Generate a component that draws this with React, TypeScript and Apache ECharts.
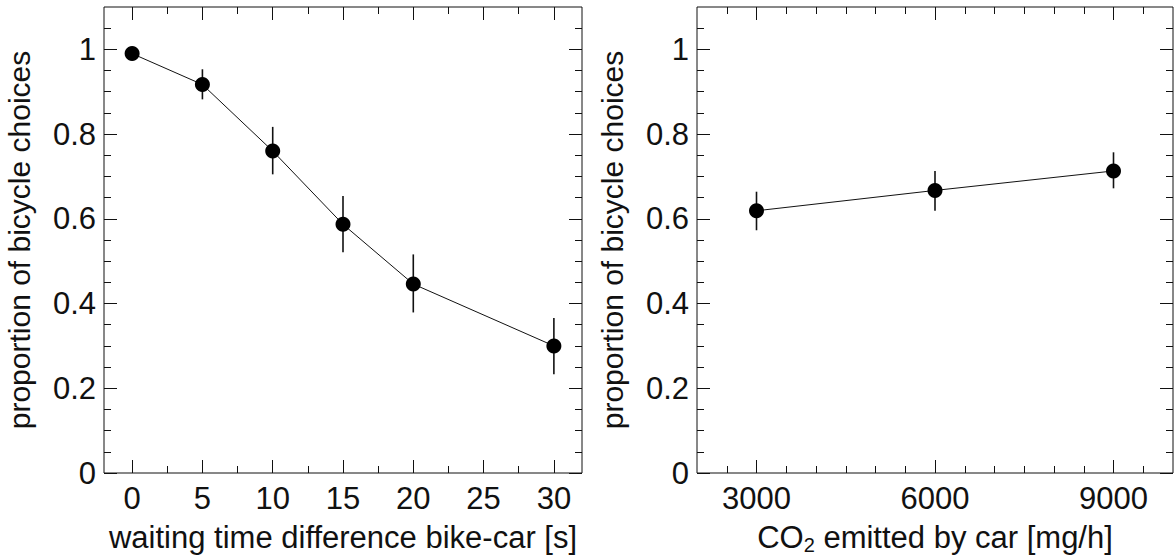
import React, { useEffect, useRef } from "react";
import * as echarts from "echarts";

// ---- data ----
const waitValues = [0, 5, 10, 15, 20, 30];
const waitProp = [0.99, 0.917, 0.76, 0.587, 0.446, 0.3];
const waitLow = [0.982, 0.882, 0.705, 0.521, 0.379, 0.233];
const waitHigh = [0.998, 0.953, 0.817, 0.654, 0.516, 0.366];

const co2Values = [3000, 6000, 9000];
const co2Prop = [0.619, 0.667, 0.713];
const co2Low = [0.573, 0.619, 0.672];
const co2High = [0.664, 0.713, 0.757];

const yMajorTicks = [0, 0.2, 0.4, 0.6, 0.8, 1];
const yMinorTicks = [0.05, 0.1, 0.15, 0.25, 0.3, 0.35, 0.45, 0.5, 0.55, 0.65, 0.7, 0.75, 0.85, 0.9, 0.95, 1.05];
const waitMajorTicks = [0, 5, 10, 15, 20, 25, 30];
const waitMinorTicks = [2.5, 7.5, 12.5, 17.5, 22.5, 27.5];
const co2MajorTicks = [3000, 6000, 9000];
const co2MinorTicks = [2500, 3500, 4000, 4500, 5000, 5500, 6500, 7000, 7500, 8000, 8500, 9500];

const yTitle = "proportion of bicycle choices";
const xTitleLeft = "{m|waiting time difference bike-car [s]}";
const xTitleRight = "{m|CO}{sub|2}{m| emitted by car [mg/h]}";

const FONT = "'Liberation Sans', Arial, sans-serif";
const INK = "#111";

function App() {
  const ref = useRef<HTMLDivElement>(null);

  useEffect(() => {
    document.body.style.margin = "0";
    const chart = echarts.init(ref.current!, undefined, { renderer: "svg" });

    const tickAxis = (
      kind: "x" | "y",
      grid: number,
      position: string,
      min: number,
      max: number,
      ticks: number[],
      len: number,
      labels: boolean,
      extra: any = {}
    ) => ({
      type: "value",
      gridIndex: grid,
      position,
      min,
      max,
      axisLine: { show: false, onZero: false },
      splitLine: { show: false },
      axisTick: {
        show: true,
        inside: true,
        length: len,
        customValues: ticks,
        lineStyle: { color: INK, width: 1 },
      },
      axisLabel: labels
        ? {
            show: true,
            customValues: ticks,
            color: INK,
            fontFamily: FONT,
            fontSize: 31,
            margin: kind === "x" ? 10 : 8,
            formatter: (v: number) => String(v),
          }
        : { show: false },
      ...extra,
    });

    const errBar = (xi: number, yi: number, xs: number[], lo: number[], hi: number[]) => ({
      type: "custom",
      xAxisIndex: xi,
      yAxisIndex: yi,
      z: 1,
      encode: { x: 0, y: [1, 2] },
      data: xs.map((x, i) => [x, lo[i], hi[i]]),
      renderItem: (_p: any, api: any) => {
        const x = api.value(0);
        const a = api.coord([x, api.value(1)]);
        const b = api.coord([x, api.value(2)]);
        return {
          type: "line",
          shape: { x1: a[0], y1: a[1], x2: b[0], y2: b[1] },
          style: { stroke: INK, lineWidth: 1.6 },
        };
      },
    });

    const lineSeries = (xi: number, yi: number, xs: number[], ys: number[]) => ({
      type: "line",
      xAxisIndex: xi,
      yAxisIndex: yi,
      z: 3,
      data: xs.map((x, i) => [x, ys[i]]),
      symbol: "circle",
      symbolSize: 15,
      itemStyle: { color: "#000" },
      lineStyle: { color: INK, width: 1 },
    });

    const xName = (name: string) => ({
      name,
      nameLocation: "middle",
      nameGap: 46,
      nameTextStyle: {
        color: INK,
        fontFamily: FONT,
        fontSize: 31,
        rich: {
          m: {
            fontSize: 31,
            fontFamily: FONT,
            color: INK,
            lineHeight: 36,
            verticalAlign: "middle",
          },
          sub: {
            fontSize: 20,
            fontFamily: FONT,
            color: INK,
            verticalAlign: "bottom",
            lineHeight: 20,
            padding: [16, 0, 0, 0],
          },
        },
      },
    });

    const yName = {
      name: yTitle,
      nameLocation: "middle",
      nameGap: 70,
      nameRotate: 90,
      nameTextStyle: { color: INK, fontFamily: FONT, fontSize: 30 },
    };

    const gridBase = {
      top: 7,
      height: 466,
      show: true,
      borderColor: INK,
      borderWidth: 1,
      backgroundColor: "transparent",
      containLabel: false,
      outerBoundsMode: "none",
    };

    const option: any = {
      animation: false,
      backgroundColor: "#fff",
      grid: [
        { ...gridBase, left: 104, width: 478 },
        { ...gridBase, left: 697, width: 476 },
      ],
      xAxis: [
        tickAxis("x", 0, "bottom", -2, 32, waitMajorTicks, 13, true, xName(xTitleLeft)),
        tickAxis("x", 0, "bottom", -2, 32, waitMinorTicks, 7, false),
        tickAxis("x", 0, "top", -2, 32, waitMajorTicks, 13, false),
        tickAxis("x", 0, "top", -2, 32, waitMinorTicks, 7, false),
        tickAxis("x", 1, "bottom", 2000, 10000, co2MajorTicks, 13, true, xName(xTitleRight)),
        tickAxis("x", 1, "bottom", 2000, 10000, co2MinorTicks, 7, false),
        tickAxis("x", 1, "top", 2000, 10000, co2MajorTicks, 13, false),
        tickAxis("x", 1, "top", 2000, 10000, co2MinorTicks, 7, false),
      ],
      yAxis: [
        tickAxis("y", 0, "left", 0, 1.1, yMajorTicks, 13, true, yName),
        tickAxis("y", 0, "left", 0, 1.1, yMinorTicks, 7, false),
        tickAxis("y", 0, "right", 0, 1.1, yMajorTicks, 13, false),
        tickAxis("y", 0, "right", 0, 1.1, yMinorTicks, 7, false),
        tickAxis("y", 1, "left", 0, 1.1, yMajorTicks, 13, true, yName),
        tickAxis("y", 1, "left", 0, 1.1, yMinorTicks, 7, false),
        tickAxis("y", 1, "right", 0, 1.1, yMajorTicks, 13, false),
        tickAxis("y", 1, "right", 0, 1.1, yMinorTicks, 7, false),
      ],
      series: [
        errBar(0, 0, waitValues, waitLow, waitHigh),
        lineSeries(0, 0, waitValues, waitProp),
        errBar(4, 4, co2Values, co2Low, co2High),
        lineSeries(4, 4, co2Values, co2Prop),
      ],
    };

    chart.setOption(option);
    return () => chart.dispose();
  }, []);

  return <div ref={ref} style={{ width: 1175, height: 558 }} />;
}

export default App;
